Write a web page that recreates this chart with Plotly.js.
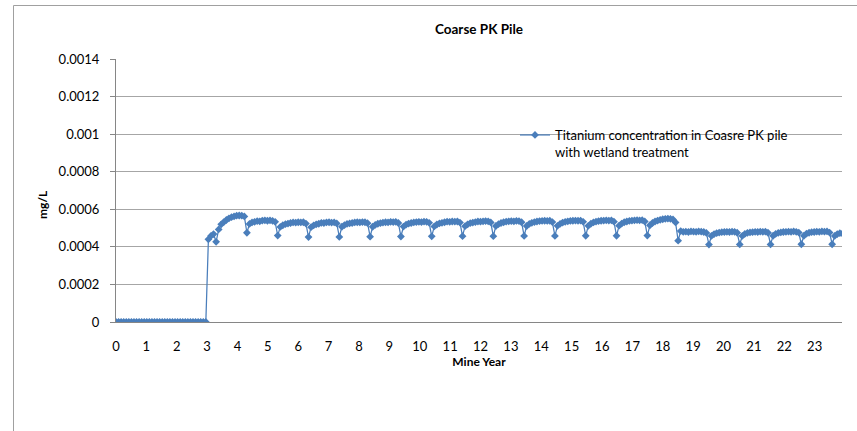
<!DOCTYPE html>
<html>
<head>
<meta charset="utf-8">
<script src="https://cdn.plot.ly/plotly-3.0.1.min.js"></script>
<style>
html,body{margin:0;padding:0;background:#fff;}
#chart{width:857px;height:431px;}
</style>
</head>
<body>
<div id="chart"></div>
<script>
// Sampling interval of the model output, in mine years
var STEP = 0.0845;

// Titanium concentration (mg/L)
var concZero = [
  0,0,0,0,0,0,0,0,0,0,0,0,
  0,0,0,0,0,0,0,0,0,0,0,0,
  0,0,0,0,0,0,0,0,0,0,0,0
];
var concStart = [0.000440, 0.000458, 0.000468, 0.000427];
var concRamp = [0.000493, 0.000520, 0.000532, 0.000543, 0.000552, 0.000558, 0.000562, 0.000566, 0.000567, 0.000566, 0.000562, 0.000475];
var concPlateau = [
  0.000522, 0.000530, 0.000533, 0.000537, 0.000536, 0.000540, 0.000541, 0.000539, 0.000541, 0.000538, 0.000533, 0.000460,
  0.000506, 0.000515, 0.000521, 0.000524, 0.000527, 0.000530, 0.000529, 0.000531, 0.000530, 0.000531, 0.000524, 0.000452,
  0.000505, 0.000514, 0.000520, 0.000523, 0.000528, 0.000527, 0.000530, 0.000531, 0.000529, 0.000530, 0.000525, 0.000453,
  0.000507, 0.000516, 0.000522, 0.000525, 0.000527, 0.000530, 0.000531, 0.000530, 0.000532, 0.000531, 0.000526, 0.000454,
  0.000507, 0.000517, 0.000523, 0.000526, 0.000529, 0.000531, 0.000530, 0.000533, 0.000532, 0.000533, 0.000527, 0.000455,
  0.000508, 0.000518, 0.000524, 0.000527, 0.000530, 0.000532, 0.000533, 0.000532, 0.000534, 0.000533, 0.000528, 0.000456,
  0.000509, 0.000519, 0.000525, 0.000528, 0.000531, 0.000534, 0.000533, 0.000535, 0.000534, 0.000535, 0.000529, 0.000457,
  0.000510, 0.000520, 0.000526, 0.000529, 0.000532, 0.000535, 0.000534, 0.000536, 0.000537, 0.000536, 0.000530, 0.000457,
  0.000511, 0.000521, 0.000527, 0.000531, 0.000534, 0.000536, 0.000537, 0.000536, 0.000538, 0.000537, 0.000531, 0.000458,
  0.000511, 0.000522, 0.000528, 0.000532, 0.000535, 0.000537, 0.000538, 0.000539, 0.000538, 0.000539, 0.000532, 0.000458,
  0.000512, 0.000522, 0.000529, 0.000533, 0.000536, 0.000538, 0.000539, 0.000540, 0.000539, 0.000540, 0.000533, 0.000459,
  0.000512, 0.000523, 0.000530, 0.000534, 0.000537, 0.000539, 0.000540, 0.000541, 0.000540, 0.000541, 0.000534, 0.000459,
  0.000513, 0.000524, 0.000531, 0.000535, 0.000538, 0.000540, 0.000541, 0.000542, 0.000541, 0.000542, 0.000535, 0.000460,
  0.000515, 0.000527, 0.000535, 0.000540, 0.000544, 0.000547, 0.000549, 0.000550, 0.000549, 0.000546, 0.000530, 0.000433
];
var concLate = [
  0.000484, 0.000480, 0.000481, 0.000479, 0.000482, 0.000481, 0.000480, 0.000482, 0.000481, 0.000479, 0.000474, 0.000412,
  0.000458, 0.000468, 0.000473, 0.000476, 0.000478, 0.000479, 0.000480, 0.000479, 0.000481, 0.000480, 0.000475, 0.000413,
  0.000458, 0.000469, 0.000474, 0.000477, 0.000478, 0.000480, 0.000479, 0.000481, 0.000480, 0.000481, 0.000475, 0.000413,
  0.000459, 0.000469, 0.000474, 0.000477, 0.000479, 0.000480, 0.000481, 0.000480, 0.000482, 0.000480, 0.000476, 0.000414,
  0.000459, 0.000470, 0.000475, 0.000478, 0.000479, 0.000481, 0.000480, 0.000482, 0.000481, 0.000482, 0.000476, 0.000414,
  0.000458, 0.000468, 0.000473, 0.000471
];

var yTicks = [0, 0.0002, 0.0004, 0.0006, 0.0008, 0.001, 0.0012, 0.0014];
var yTickText = ['0', '0.0002', '0.0004', '0.0006', '0.0008', '0.001', '0.0012', '0.0014'];
var xTicks = [0,1,2,3,4,5,6,7,8,9,10,11,12,13,14,15,16,17,18,19,20,21,22,23];

var conc = concZero.concat(concStart, concRamp, concPlateau, concLate);
var mineYear = conc.map(function (v, i) { return i * STEP; });

var FONT = 'Lato, "Open Sans", sans-serif';
var BLUE = '#4a7ebb';

var trace = {
  x: mineYear,
  y: conc,
  type: 'scatter',
  mode: 'lines+markers',
  name: 'Titanium concentration in Coasre PK pile<br>with wetland treatment',
  line: {color: BLUE, width: 1.25},
  marker: {symbol: 'diamond', size: 6, color: BLUE}
};

var layout = {
  width: 857,
  height: 431,
  margin: {l: 116, r: 15, t: 59, b: 109},
  paper_bgcolor: '#ffffff',
  plot_bgcolor: '#ffffff',
  font: {family: FONT, size: 13, color: '#000000'},
  title: {
    text: '<b>Coarse PK Pile</b>',
    font: {family: FONT, size: 13.5, color: '#000000'},
    x: 0.5, xref: 'paper', xanchor: 'center',
    y: 26, yref: 'container', yanchor: 'middle'
  },
  showlegend: true,
  legend: {
    x: (515 - 116) / 726, xanchor: 'left',
    y: (322 - 120) / 263, yanchor: 'top',
    bgcolor: 'rgba(0,0,0,0)',
    borderwidth: 0,
    itemwidth: 30,
    valign: 'top',
    font: {family: FONT, size: 13, color: '#000000'}
  },
  xaxis: {
    range: [0, 23.9],
    tickvals: xTicks,
    ticktext: xTicks.map(String),
    showgrid: false,
    zeroline: false,
    showline: true,
    linecolor: '#868686',
    linewidth: 1,
    ticks: '',
    ticklabelstandoff: 12,
    tickfont: {family: FONT, size: 13, color: '#000000'},
    title: {text: '<b>Mine Year</b>', font: {family: FONT, size: 12, color: '#000000'}, standoff: 5}
  },
  yaxis: {
    range: [0, 0.0014],
    tickvals: yTicks,
    ticktext: yTickText,
    showgrid: true,
    gridcolor: '#a6a6a6',
    gridwidth: 1,
    zeroline: false,
    showline: true,
    linecolor: '#868686',
    linewidth: 1,
    ticks: 'outside',
    ticklen: 5,
    tickcolor: '#868686',
    ticklabelstandoff: 8,
    tickfont: {family: FONT, size: 13, color: '#000000'}
  },
  annotations: [{
    text: '<b>mg/L</b>',
    textangle: -90,
    xref: 'paper', yref: 'paper',
    x: (42 - 116) / 726, y: (322 - 205) / 263,
    xanchor: 'center', yanchor: 'middle',
    showarrow: false,
    font: {family: FONT, size: 12, color: '#000000'}
  }],
  shapes: [{
    type: 'rect',
    xref: 'paper', yref: 'paper',
    x0: (13.5 - 116) / 726, x1: (900 - 116) / 726,
    y0: (322 - 460) / 263, y1: (322 - 5.5) / 263,
    line: {color: '#a0a0a0', width: 1},
    fillcolor: 'rgba(0,0,0,0)',
    layer: 'below'
  }]
};

Plotly.newPlot('chart', [trace], layout, {staticPlot: true, displayModeBar: false});
</script>
</body>
</html>
